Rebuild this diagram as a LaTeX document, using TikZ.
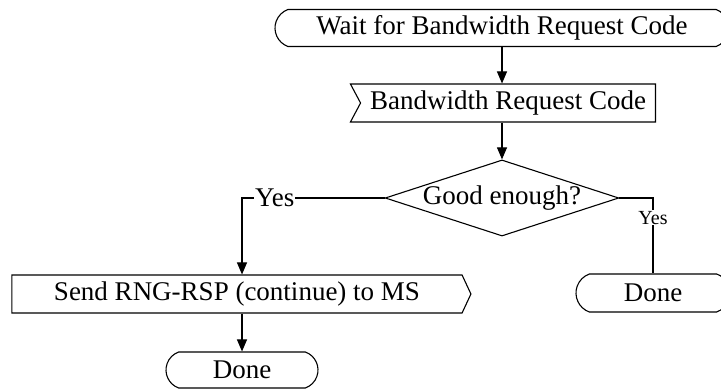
\documentclass[tikz,border=0pt]{standalone}
\usepackage{fontspec}
\setmainfont{Liberation Serif}
\usetikzlibrary{shapes.misc,shapes.symbols,shapes.geometric,arrows.meta}

\tikzset{
  base/.style={draw, line width=1.1pt, inner sep=0pt, font=\fontsize{27}{31}\selectfont},
  term/.style={base, rounded rectangle, rounded rectangle arc length=140, minimum height=37pt},
  recv/.style={base, signal, signal from=west, signal to=nowhere, signal pointer angle=124, minimum height=38pt},
  sendsig/.style={base, signal, signal to=east, signal pointer angle=130, minimum height=38pt},
  test/.style={base, diamond, aspect=3.07, minimum width=227pt, minimum height=74pt},
  flow/.style={line width=1.1pt, -{Triangle[length=12pt,width=10pt]}},
  link/.style={line width=1.1pt},
  lbl/.style={fill=white, inner sep=1pt, font=\fontsize{27}{31}\selectfont},
  smalllbl/.style={fill=white, inner sep=1pt, font=\fontsize{20}{24}\selectfont},
}

\begin{document}
\begin{tikzpicture}[x=1pt, y=-1pt]
\useasboundingbox (0,0) rectangle (721,390);

\def\xm{502};
\def\xl{242};
\def\xr{653};

\node[term, minimum width=454pt] (wait) at (\xm, 28) {Wait for Bandwidth Request Code};
\node[recv, minimum width=305pt] (code) at (\xm + 6, 103) {Bandwidth Request Code};
\node[test] (good) at (\xm, 198) {Good enough?};

\node[sendsig, minimum width=459pt] (send) at (\xl - 5, 294) {Send RNG-RSP (continue) to MS};
\node[term, minimum width=152pt, minimum height=36pt] (doneL) at (\xl, 370) {Done};
\node[term, minimum width=154pt, minimum height=38pt] (doneR) at (\xr, 293) {Done};

\draw[flow] (wait.south -| good.north) -- (good.north |- code.north);
\draw[flow] (good.north |- code.south) -- (good.north);

% left branch
\draw[flow] (good.west) -- node[lbl, pos=0.77] {Yes} (doneL.north |- good.west) -- (doneL.north |- send.north);
\draw[flow] (doneL.north |- send.south) -- (doneL.north);

% right branch
\draw[link] (good.east) -- (doneR.north |- good.east) -- node[smalllbl, pos=0.26] {Yes} (doneR.north);

\end{tikzpicture}
\end{document}
